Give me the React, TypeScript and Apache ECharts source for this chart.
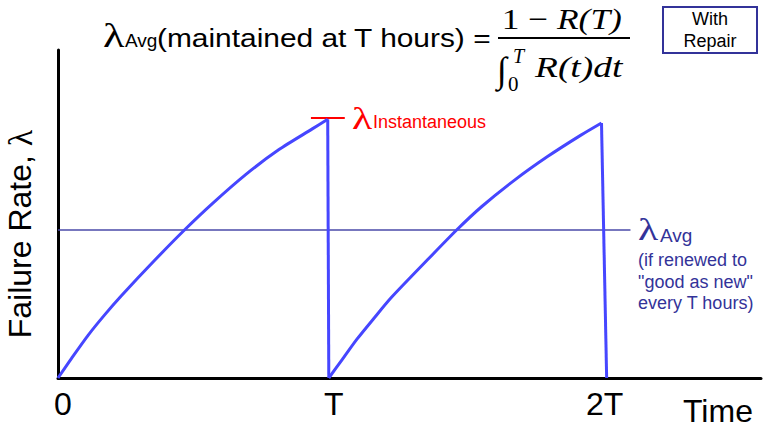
import React, { useEffect, useRef } from "react";
import * as echarts from "echarts";

// time in units of the maintenance interval T, rate normalised to the peak of the first cycle
const cycle1Time = [0, 0.05, 0.111, 0.173, 0.234, 0.357, 0.467, 0.571, 0.694, 0.816, 0.939, 0.996];
const cycle1Rate = [0, 0.076, 0.165, 0.245, 0.318, 0.455, 0.572, 0.675, 0.787, 0.883, 0.963, 1.0];
const cycle2Time = [1.0, 1.05, 1.104, 1.17, 1.23, 1.36, 1.472, 1.564, 1.686, 1.809, 1.931, 2.007];
const cycle2Rate = [0, 0.072, 0.15, 0.235, 0.31, 0.452, 0.572, 0.662, 0.765, 0.857, 0.939, 0.986];
const renewal1Time = [0.996, 1.0];
const renewal1Rate = [1.0, 0];
const renewal2Time = [2.007, 2.026];
const renewal2Rate = [0.986, 0];
const avgRate = 0.572;
const avgTime = [0, 2.114];
const instTime = [0.934, 1.059];
const instRate = 1.005;
const tickValues = [0, 1, 2];
const tickLabels = ["0", "T", "2T"];

const zip = (xs: number[], ys: number[]) => xs.map((x, i) => [x, ys[i]]);

const SANS = "'Liberation Sans', Arial, sans-serif";
const SERIF = "'Liberation Serif', 'Times New Roman', serif";
const NAVY = "#333399";

export default function App() {
  const ref = useRef<HTMLDivElement>(null);
  useEffect(() => {
    document.body.style.margin = "0";
    const chart = echarts.init(ref.current!, null, { renderer: "svg" });
    const curveStyle = { color: "#4646ff", width: 3 };
    const curve = (data: number[][]) => ({
      type: "line",
      data,
      symbol: "none",
      smooth: 0.25,
      lineStyle: curveStyle,
      z: 3,
    });
    const txt = (x: number, y: number, text: string, font: any, extra: any = {}) => ({
      type: "text",
      x,
      y,
      ...extra,
      style: { text, align: "left", verticalAlign: "middle", fill: "#000", ...font },
    });
    const serif = (size: number, italic = false) => ({ fontSize: size, fontFamily: SERIF, fontStyle: italic ? "italic" : "normal", fontWeight: "normal" });
    const sans = (size: number, fill = "#000") => ({ fontSize: size, fontFamily: SANS, fontWeight: "normal", fill });
    chart.setOption({
      animation: false,
      backgroundColor: "#fff",
      grid: { left: 58, top: 50, right: 0, bottom: 53, containLabel: false },
      xAxis: {
        type: "value",
        min: 0,
        max: 2.596,
        interval: 1,
        axisLine: { show: true, lineStyle: { color: "#000", width: 3 } },
        axisTick: { show: false },
        splitLine: { show: false },
        axisLabel: {
          formatter: (v: number) => {
            const i = tickValues.indexOf(v);
            return i >= 0 ? "{t|" + tickLabels[i] + "}" : "";
          },
          rich: { t: { fontSize: 32, fontFamily: SANS, color: "#000", padding: [0, 0, 0, 10] } },
          fontSize: 32,
          fontFamily: SANS,
          color: "#000",
          margin: 10,
        },
      },
      yAxis: {
        type: "value",
        min: 0,
        max: 1.268,
        axisLine: { show: true, lineStyle: { color: "#000", width: 3 } },
        axisTick: { show: false },
        axisLabel: { show: false },
        splitLine: { show: false },
      },
      series: [
        {
          type: "line",
          data: avgTime.map((t) => [t, avgRate]),
          symbol: "none",
          lineStyle: { color: "#4a4aa8", width: 1.6 },
          z: 1,
        },
        {
          type: "line",
          data: instTime.map((t) => [t, instRate]),
          symbol: "none",
          lineStyle: { color: "#ff0000", width: 2 },
          z: 1,
        },
        curve(zip(cycle1Time, cycle1Rate)),
        curve(zip(cycle2Time, cycle2Rate)),
        { type: "line", data: zip(renewal1Time, renewal1Rate), symbol: "none", lineStyle: curveStyle, z: 3 },
        { type: "line", data: zip(renewal2Time, renewal2Rate), symbol: "none", lineStyle: curveStyle, z: 3 },
      ],
      graphic: [
        // title
        txt(103, 36, "λ", serif(34), { scaleX: 1.3 }),
        txt(125, 40, "Avg", sans(19)),
        txt(157, 38, "(maintained at T hours) =", sans(26), { scaleX: 1.15 }),
        // fraction
        { ...txt(557, 19, "1 − ", serif(30), { scaleX: 1.18 }), style: { ...txt(0, 0, "1 − ", serif(30)).style, align: "right" } },
        txt(557, 19, "R(T)", serif(30, true), { scaleX: 1.18 }),
        { type: "rect", shape: { x: 498, y: 37, width: 132, height: 2 }, style: { fill: "#000" } },
        txt(497, 70, "∫", serif(36)),
        txt(513, 56, "T", serif(20, true)),
        txt(508, 84, "0", serif(21)),
        txt(535, 67, "R(t)dt", serif(30, true), { scaleX: 1.25 }),
        // With Repair box
        { type: "rect", shape: { x: 663, y: 7, width: 94, height: 46 }, style: { fill: "#fff", stroke: NAVY, lineWidth: 2 } },
        { type: "text", x: 710, y: 19, style: { text: "With", ...sans(18), align: "center", verticalAlign: "middle" } },
        { type: "text", x: 710, y: 41, style: { text: "Repair", ...sans(18), align: "center", verticalAlign: "middle" } },
        // instantaneous label
        txt(352, 118, "λ", { ...serif(32), fill: "#ff0000" }, { scaleX: 1.3 }),
        txt(373, 122, "Instantaneous", sans(18, "#ff0000")),
        // average label
        txt(638, 229, "λ", { ...serif(32), fill: NAVY }, { scaleX: 1.3 }),
        txt(660, 235, "Avg", sans(19, NAVY)),
        txt(638, 260, "(if renewed to", sans(18, NAVY)),
        txt(638, 282, "\"good as new\"", sans(18, NAVY)),
        txt(638, 303, "every T hours)", sans(18, NAVY)),
        // axis titles
        {
          type: "text", x: 20, y: 234, rotation: Math.PI / 2,
          style: {
            text: "Failure Rate, {l|λ}",
            fontSize: 32, fontFamily: SANS, fill: "#000", align: "center", verticalAlign: "middle",
            rich: { l: { fontSize: 34, fontFamily: SERIF, fill: "#000" } },
          },
        },
        txt(683, 411, "Time", sans(32)),
      ],
    });
    return () => chart.dispose();
  }, []);
  return <div ref={ref} style={{ width: 764, height: 431, position: "absolute", left: 0, top: 0 }} />;
}
